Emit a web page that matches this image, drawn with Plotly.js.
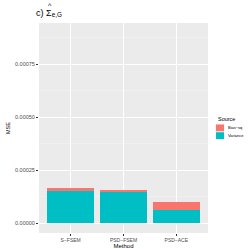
<!DOCTYPE html>
<html><head><meta charset="utf-8">
<script src="https://cdn.plot.ly/plotly-3.0.1.min.js"></script>
<style>html,body{margin:0;padding:0;background:#fff}#c{width:249px;height:249px}</style>
</head><body><div id="c"></div>
<script>
const methods = ["S\u2212FSEM", "PSD\u2212FSEM", "PSD\u2212ACE"];
const variance = [0.000155, 0.000149, 0.000062];
const biasSq = [0.000010, 0.000011, 0.000037];
const yTicks = [0, 0.00025, 0.0005, 0.00075];
const yTickText = ["0.00000", "0.00025", "0.00050", "0.00075"];
const sourceNames = ["Bias\u2212sq", "Variance"];
const sourceColors = ["#F8766D", "#00BFC4"];

const traces = [
  {type:'bar', x:methods, y:variance, name:sourceNames[1], marker:{color:sourceColors[1]}, width:0.9},
  {type:'bar', x:methods, y:biasSq, name:sourceNames[0], marker:{color:sourceColors[0]}, width:0.9}
];
// manual legend (ggplot-style compact keys)
const shapes = [], annotations = [];
const keyX0 = 1.047, keyX1 = 1.095, keyTop = 0.519, keyH = 0.037;
sourceNames.forEach((n, i) => {
  const y1 = keyTop - i*keyH, y0 = y1 - keyH;
  shapes.push({type:'rect', xref:'paper', yref:'paper', x0:keyX0, x1:keyX1, y0:y0+0.002, y1:y1-0.002,
    fillcolor:sourceColors[i], line:{width:0}});
  annotations.push({xref:'paper', yref:'paper', x:1.107, y:(y0+y1)/2, xanchor:'left', yanchor:'middle',
    text:n, showarrow:false, font:{size:4, color:'#000'}});
});
annotations.push({xref:'paper', yref:'paper', x:1.045, y:0.545, xanchor:'left', yanchor:'middle',
  text:'Source', showarrow:false, font:{size:5.5, color:'#000'}});
annotations.push({xref:'paper', yref:'paper', x:0.068, y:1.085, xanchor:'center', yanchor:'middle',
  text:'^', showarrow:false, font:{size:7, color:'#000'}});

const layout = {
  width:249, height:249,
  margin:{l:39, r:41, t:23, b:16, pad:0},
  paper_bgcolor:'#fff', plot_bgcolor:'#EBEBEB',
  barmode:'stack', bargap:0.1,
  font:{family:'Liberation Sans, Arial, sans-serif', size:5, color:'#4D4D4D'},
  title:{text:'c) \u03A3<sub>e,G</sub>', x:0.145, xanchor:'left', y:0.95, yanchor:'middle', font:{size:9, color:'#000'}},
  xaxis:{type:'category', range:[-0.6, 2.6], showgrid:true, gridcolor:'#fff', gridwidth:1,
    ticks:'outside', ticklen:2, tickcolor:'#333', tickfont:{size:5, color:'#4D4D4D'},
    title:{text:'Method', font:{size:6, color:'#000'}, standoff:0}, zeroline:false, showline:false, fixedrange:true},
  yaxis:{range:[-0.000045, 0.000945], tickvals:yTicks, ticktext:yTickText, showgrid:true, gridcolor:'#fff', gridwidth:1,
    minor:{dtick:0.000125, tick0:0.000125, showgrid:true, gridcolor:'#F5F5F5', gridwidth:0.5, ticks:''},
    ticks:'outside', ticklen:2, tickcolor:'#333', tickfont:{size:5.5, color:'#4D4D4D'},
    title:{text:'MSE', font:{size:5.5, color:'#000'}, standoff:4}, zeroline:false, showline:false},
  showlegend:false,
  shapes:shapes, annotations:annotations
};
Plotly.newPlot('c', traces, layout, {staticPlot:true, displayModeBar:false});
</script></body></html>
